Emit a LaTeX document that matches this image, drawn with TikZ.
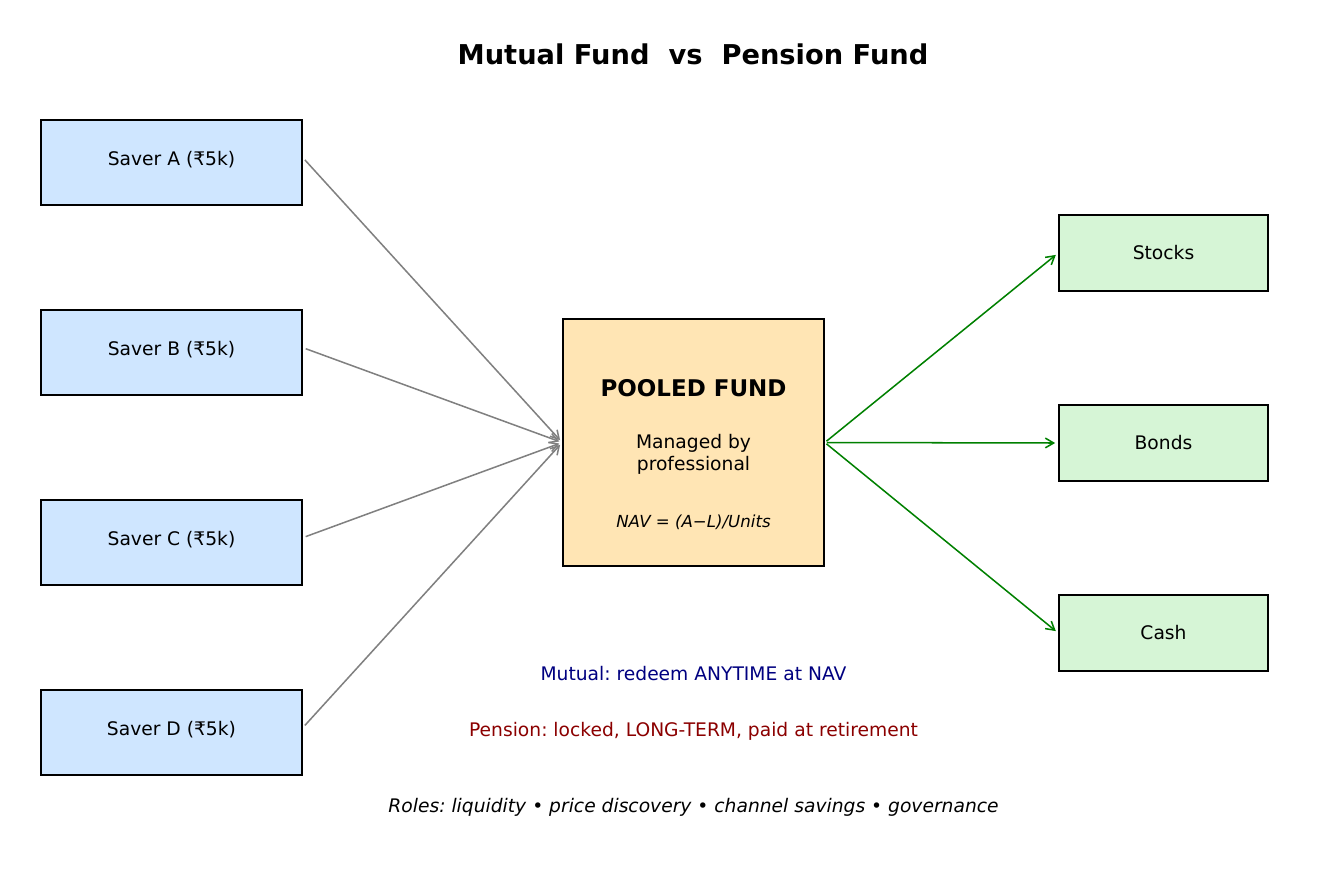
\documentclass[tikz,border=0pt]{standalone}
\usepackage{fontspec}
\setmainfont{DejaVu Sans}
\frenchspacing
\usetikzlibrary{arrows.meta}
\definecolor{saverblue}{RGB}{207,230,255}
\definecolor{poolpeach}{RGB}{255,229,180}
\definecolor{assetgreen}{RGB}{214,245,214}
\definecolor{mutualnavy}{RGB}{0,0,128}
\definecolor{pensionred}{RGB}{139,0,0}
\definecolor{flowgreen}{RGB}{0,128,0}
\begin{document}
\begin{tikzpicture}[
	x=0.01in, y=-0.01in,
	saver/.style={ draw, line width=1.1pt, fill=saverblue, minimum width=2.61in, minimum height=0.85in, inner sep=0pt, text depth=6pt, font=\fontsize{13.5pt}{16pt}\selectfont },
	pool/.style={ draw, line width=1.1pt, fill=poolpeach, minimum width=2.61in, minimum height=2.47in, inner sep=0pt },
	asset/.style={ draw, line width=1.1pt, fill=assetgreen, minimum width=2.09in, minimum height=0.76in, inner sep=0pt, font=\fontsize{13.5pt}{16pt}\selectfont },
	note/.style={ inner sep=0pt, font=\fontsize{13.5pt}{16pt}\selectfont },
	feed/.style={ draw=gray, line width=1.1pt, -{Straight Barb[length=6pt,width=7pt]}, shorten <=2.2pt, shorten >=2.2pt },
	invest/.style={ draw=flowgreen, line width=1.1pt, -{Straight Barb[length=6pt,width=7pt]}, shorten <=1.5pt, shorten >=2.2pt }
]
\useasboundingbox (0,0) rectangle (1335,885);

\node[inner sep=0pt, font=\fontsize{19.7pt}{23pt}\selectfont\bfseries] at (693,54) (title) {Mutual Fund\ \ vs\ \ Pension Fund};

\node[saver] at (171.5,162.5) (sA) {Saver A (₹5k)};
\node[saver] at (171.5,352.5) (sB) {Saver B (₹5k)};
\node[saver] at (171.5,542.5) (sC) {Saver C (₹5k)};
\node[saver] at (171.5,732.5) (sD) {Saver D (₹5k)};

\node[pool] at (693.5,442.5) (pool) {};
\node[inner sep=0pt, font=\fontsize{16.6pt}{19pt}\selectfont\bfseries] at (693.5,388) (poolname) {POOLED FUND};
\node[note, align=center] at (693.5,454) (manager) {Managed by\\professional};
\node[note, font=\fontsize{12pt}{15pt}\selectfont\itshape] at (693.5,522) (nav) {NAV = (A−L)/Units};

\node[asset] at (1163.5,253) (stocks) {Stocks};
\node[asset] at (1163.5,443) (bonds) {Bonds};
\node[asset] at (1163.5,633) (cash) {Cash};

\draw[feed] ([yshift=3.5pt]sA.east) -- (pool.west);
\draw[feed] ([yshift=3.5pt]sB.east) -- (pool.west);
\draw[feed] ([yshift=3.5pt]sC.east) -- (pool.west);
\draw[feed] ([yshift=3.5pt]sD.east) -- (pool.west);

\draw[invest] (pool.east) -- (stocks.west);
\draw[invest] (pool.east) -- (bonds.west);
\draw[invest] (pool.east) -- (cash.west);

\node[note, text=mutualnavy] at (693.5,674) (mutual) {Mutual: redeem ANYTIME at NAV};
\node[note, text=pensionred] at (693.5,731) (pension) {Pension: locked, LONG-TERM, paid at retirement};
\node[note, font=\fontsize{13.5pt}{16pt}\selectfont\itshape] at (693.5,807) (roles) {Roles: liquidity • price discovery • channel savings • governance};

\end{tikzpicture}
\end{document}
